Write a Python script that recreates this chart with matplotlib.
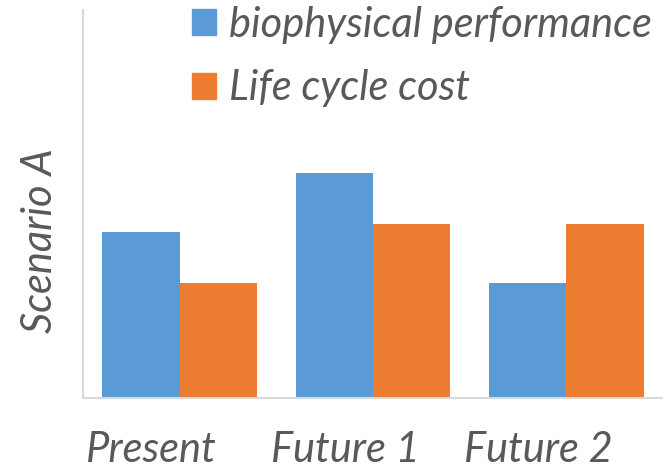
import numpy as np
import matplotlib.pyplot as plt
from matplotlib.patches import Patch
import matplotlib.transforms as mtransforms

categories = ['Present', 'Future 1', 'Future 2']
biophysical = [1.66, 2.25, 1.15]
life_cycle = [1.15, 1.74, 1.74]
series_names = ['biophysical performance', 'Life cycle cost']

blue = '#5B9BD5'
orange = '#ED7D31'
grey = '#595959'

plt.rcParams['font.family'] = 'Lato'
plt.rcParams['font.style'] = 'italic'

fig = plt.figure(figsize=(6.63, 4.73), dpi=100)
W, H = 663, 473
ax = fig.add_axes([83/W, (H-398)/H, 1 - 83/W, (398-10)/H])

x = np.arange(len(categories))
ax.bar(x - 0.2, biophysical, width=0.4, color=blue)
ax.bar(x + 0.2, life_cycle, width=0.4, color=orange)

ax.set_xlim(-0.5, 2.5)
ax.set_ylim(0, 3.88)
ax.set_yticks([])
ax.set_xticks(x)
ax.set_xticklabels(categories, fontsize=30, color=grey, style='italic')
ax.tick_params(axis='x', length=0, pad=24)
offset = mtransforms.ScaledTranslation(-28/100, 0, fig.dpi_scale_trans)
for lab in ax.get_xticklabels():
    lab.set_transform(lab.get_transform() + offset)

for s in ['top', 'right']:
    ax.spines[s].set_visible(False)
for s in ['left', 'bottom']:
    ax.spines[s].set_color('#D9D9D9')
    ax.spines[s].set_linewidth(1.5)

fig.text(40/W, 1 - 241/H, 'Scenario A', rotation=90, fontsize=30, color=grey,
         ha='center', va='center', style='italic')

handles = [Patch(color=blue), Patch(color=orange)]
leg = fig.legend(handles, series_names, loc='upper left', bbox_to_anchor=(192/W, 1 - 6/H),
                 frameon=False, fontsize=30, handlelength=0.58, handleheight=0.58,
                 handletextpad=0.3, labelspacing=0.61, borderpad=0, borderaxespad=0)
for t in leg.get_texts():
    t.set_color(grey)

fig.savefig('out.png', dpi=100)
